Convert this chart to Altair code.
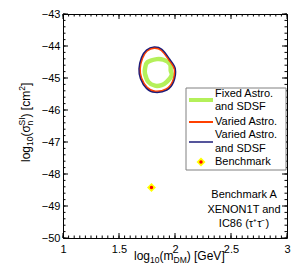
import altair as alt
import pandas as pd
import numpy as np

# ---------------- data ----------------
navy_x = [1.815, 1.881, 1.949, 2.000, 1.985, 1.926, 1.821, 1.747, 1.694, 1.681, 1.703, 1.747]
navy_y = [-44.04, -44.11, -44.41, -44.71, -45.12, -45.37, -45.44, -45.32, -45.02, -44.71, -44.36, -44.13]

red_x = [1.815, 1.877, 1.943, 1.993, 1.978, 1.921, 1.821, 1.752, 1.702, 1.690, 1.711, 1.752]
red_y = [-44.07, -44.14, -44.43, -44.72, -45.10, -45.34, -45.41, -45.29, -45.00, -44.71, -44.38, -44.16]

green_x = [1.837, 1.896, 1.955, 1.962, 1.970, 1.926, 1.881, 1.821, 1.762, 1.732, 1.732, 1.753]
green_y = [-44.41, -44.43, -44.56, -44.77, -44.92, -45.12, -45.22, -45.24, -45.12, -44.87, -44.71, -44.51]

bench_x = [1.79]
bench_y = [-48.42]

x_major = [1, 1.5, 2, 2.5, 3]
y_major = [-50, -49, -48, -47, -46, -45, -44, -43]
x_minor = [round(v, 2) for v in np.arange(1.0, 3.0001, 0.05)]
y_minor = [round(v, 1) for v in np.arange(-50.0, -42.999, 0.2)]

legend_labels = ["Fixed Astro.", "and SDSF", "Varied Astro.", "Varied Astro.", "and SDSF", "Benchmark"]
note_lines = ["Benchmark A", "XENON1T and", "IC86 (\u03c4\u207a\u03c4\u207b)"]

# ---------------- layout ----------------
W, H = 224, 224
FONT = "Liberation Sans"
GREEN = "#B4F05A"
RED = "#FF4000"
NAVY = "#1C1C7A"

xs = alt.Scale(domain=[1, 3], nice=False, zero=False)
ys = alt.Scale(domain=[-50, -43], nice=False, zero=False)
XAX = alt.Axis(values=x_major, format="~g", labelPadding=5, labelFlush=False,
               labelOverlap=False, labelBound=False, ticks=False, domain=False, grid=False,
               labelFont=FONT, labelFontSize=11, labelColor="black")
YAX = alt.Axis(values=y_major, format="d", labelPadding=3, labelFlush=False,
               labelOverlap=False, labelBound=False, ticks=False, domain=False, grid=False,
               labelFont=FONT, labelFontSize=11, labelColor="black")
one = pd.DataFrame({"k": [0]})


def X(field):
    return alt.X(field, scale=xs, axis=XAX, title=None)


def Y(field):
    return alt.Y(field, scale=ys, axis=YAX, title=None)


def contour(xv, yv, color, width):
    df = pd.DataFrame({"x": xv, "y": yv, "i": list(range(len(xv)))})
    return alt.Chart(df).mark_line(
        interpolate="cardinal-closed", color=color, strokeWidth=width
    ).encode(x=X("x:Q"), y=Y("y:Q"), order="i:Q")


def xticks(vals, length):
    df = pd.DataFrame({"v": vals})
    b = alt.Chart(df).mark_rule(color="black", strokeWidth=1).encode(
        x=X("v:Q"), y=alt.value(H), y2=alt.value(H - length))
    t = alt.Chart(df).mark_rule(color="black", strokeWidth=1).encode(
        x=X("v:Q"), y=alt.value(0), y2=alt.value(length))
    return [b, t]


def yticks(vals, length):
    df = pd.DataFrame({"v": vals})
    l = alt.Chart(df).mark_rule(color="black", strokeWidth=1).encode(
        y=Y("v:Q"), x=alt.value(0), x2=alt.value(length))
    r = alt.Chart(df).mark_rule(color="black", strokeWidth=1).encode(
        y=Y("v:Q"), x=alt.value(W), x2=alt.value(W - length))
    return [l, r]


ticks = xticks(x_minor, 2.5) + xticks(x_major, 5) + yticks(y_minor, 2.5) + yticks(y_major, 5)

bdf = pd.DataFrame({"x": bench_x, "y": bench_y})
bench_outer = alt.Chart(bdf).mark_point(shape="diamond", filled=True, color="#FFFF00", size=80, opacity=1).encode(
    x=X("x:Q"), y=Y("y:Q"))
bench_inner = alt.Chart(bdf).mark_point(shape="circle", filled=True, color="#FF0000", size=12, opacity=1).encode(
    x=X("x:Q"), y=Y("y:Q"))


def txt(s, x, y, size=11, align="left", angle=0, baseline="middle"):
    return alt.Chart(one).mark_text(
        text=s, font=FONT, fontSize=size, align=align, baseline=baseline, angle=angle, color="black"
    ).encode(x=alt.value(x), y=alt.value(y))


def hline(x1, x2, y, color, width):
    return alt.Chart(one).mark_rule(color=color, strokeWidth=width).encode(
        x=alt.value(x1), x2=alt.value(x2), y=alt.value(y))


# legend
LX1, LX2, LY1, LY2 = 123, 223, 74, 156
legend_box = alt.Chart(one).mark_rect(fill="white", stroke="#808080", strokeWidth=1).encode(
    x=alt.value(LX1), x2=alt.value(LX2), y=alt.value(LY1), y2=alt.value(LY2))
TX = 152
legend_rows = [80, 93, 108, 121, 135, 148]
legend = [legend_box]
for lab, yy in zip(legend_labels, legend_rows):
    legend.append(txt(lab, TX, yy))
legend += [
    hline(126, 150, 86, GREEN, 4),
    hline(126, 150, 108, RED, 2),
    hline(126, 150, 128, NAVY, 1.5),
]
leg_b1 = alt.Chart(one).mark_point(shape="diamond", filled=True, color="#FFFF00", size=80, opacity=1).encode(
    x=alt.value(138), y=alt.value(148))
leg_b2 = alt.Chart(one).mark_point(shape="circle", filled=True, color="#FF0000", size=12, opacity=1).encode(
    x=alt.value(138), y=alt.value(148))
legend += [leg_b1, leg_b2]

# annotation
notes = [txt(s, 181, yy, align="center") for s, yy in zip(note_lines, [181, 196, 210])]

# x title pieces
XB = 246
xt = [
    txt("log", 71, XB, 12, baseline="alphabetic"),
    txt("10", 87, XB + 3, 8.5, baseline="alphabetic"),
    txt("(m", 96.5, XB, 12, baseline="alphabetic"),
    txt("DM", 110.5, XB + 3, 8.5, baseline="alphabetic"),
    txt(") [GeV]", 123.7, XB, 12, baseline="alphabetic"),
]

# y title pieces (rotated)
YB = -33
yt = [
    txt("log", YB, 148, 12, angle=270, baseline="alphabetic"),
    txt("10", YB + 3, 132, 8.5, angle=270, baseline="alphabetic"),
    txt("(\u03c3", YB, 122.5, 12, angle=270, baseline="alphabetic"),
    txt("SI", YB - 5, 111.5, 8.5, angle=270, baseline="alphabetic"),
    txt("n", YB + 3, 111.5, 8.5, angle=270, baseline="alphabetic"),
    txt(") [cm", YB, 103.5, 12, angle=270, baseline="alphabetic"),
    txt("2", YB - 5, 76.8, 8.5, angle=270, baseline="alphabetic"),
    txt("]", YB, 72.1, 12, angle=270, baseline="alphabetic"),
]

layers = ticks + [
    contour(green_x, green_y, GREEN, 4.5),
    contour(navy_x, navy_y, NAVY, 2),
    contour(red_x, red_y, RED, 1.3),
    bench_outer, bench_inner,
] + legend + notes + xt + yt

chart = alt.layer(*layers).properties(
    width=W, height=H,
    autosize=alt.AutoSizeParams(type="none"),
    padding={"left": 55, "top": 6, "right": 4, "bottom": 30},
).configure_view(stroke="black", strokeWidth=1)

chart.save("out.html", embed_options={"renderer": "svg", "actions": False})
